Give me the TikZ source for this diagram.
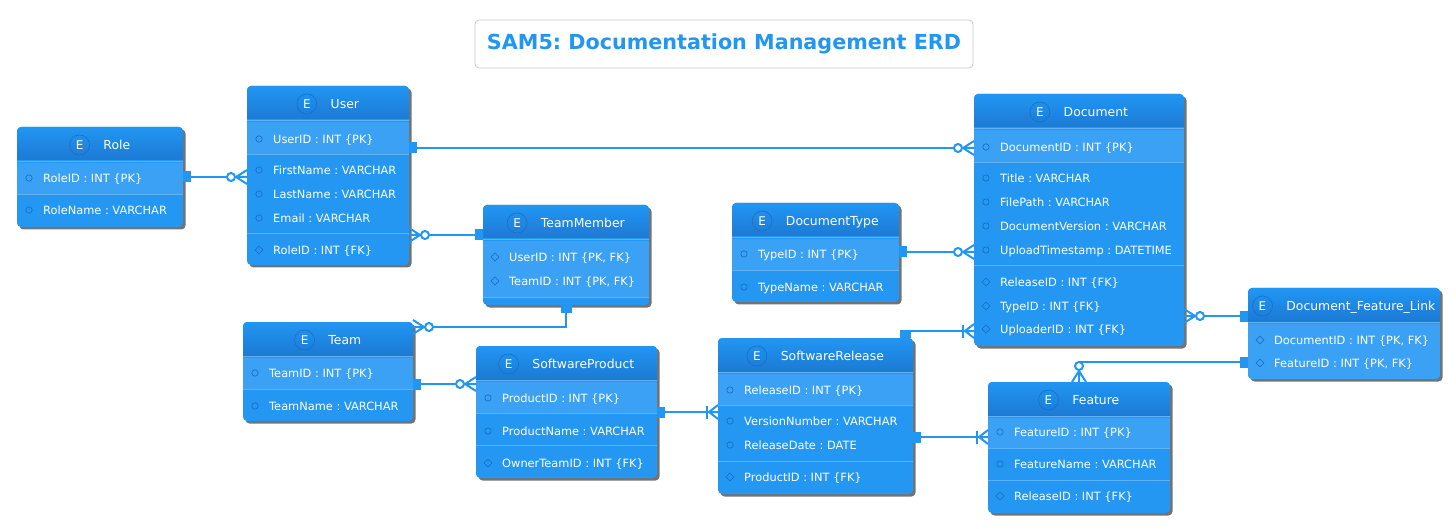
\documentclass[tikz,border=0pt]{standalone}
\usepackage{fontspec}
\setmainfont{DejaVu Sans}
\usetikzlibrary{calc}
\frenchspacing

\definecolor{erdblue}{RGB}{33,150,243}
\definecolor{hdtop}{RGB}{33,150,243}
\definecolor{hdbot}{RGB}{28,122,212}
\definecolor{bodyc}{RGB}{36,151,243}
\definecolor{pkc}{RGB}{58,161,245}
\definecolor{sepc}{RGB}{95,178,246}
\definecolor{iconc}{RGB}{23,105,195}
\definecolor{shadowc}{RGB}{115,115,115}
\definecolor{ecircc}{RGB}{25,110,200}
\definecolor{titleborder}{RGB}{200,200,200}

\tikzset{
  ebox/.style={fill=bodyc, rounded corners=4pt, inner sep=0pt, outer sep=0pt},
  eshadow/.style={fill=shadowc, rounded corners=4pt},
  esep/.style={draw=sepc, line width=0.7pt},
  eicon/.style={draw=iconc, line width=0.6pt},
  eattr/.style={anchor=west, inner sep=0pt, text=white,
    font=\fontsize{11.4pt}{13pt}\selectfont, text height=8.3pt, text depth=0pt},
  ehead/.style={inner sep=0pt, text=white,
    font=\fontsize{12.4pt}{14pt}\selectfont, text height=9pt, text depth=0pt},
  ecirc/.style={circle, draw=ecircc, line width=0.6pt, minimum size=20pt, inner sep=0pt,
    text=white, font=\fontsize{12pt}{14pt}\selectfont, text height=8.8pt, text depth=0pt},
  conn/.style={draw=erdblue, line width=2.5pt},
  crow/.style={draw=erdblue, line width=2pt},
  titlebox/.style={draw=titleborder, fill=white, rounded corners=4pt, line width=0.8pt,
    minimum width=498pt, minimum height=48pt, inner sep=0pt, text=erdblue,
    font=\bfseries\fontsize{20.7pt}{24pt}\selectfont},
}

% entity box: name, left, top, right, bottom, title, bottom of first attribute group
\newcommand\erdentity[7]{%
  \pgfmathsetmacro\erdcx{(#2+#4)/2}%
  \pgfmathsetmacro\erdcy{(#3+#5)/2}%
  \pgfmathsetmacro\erdw{#4-#2}%
  \pgfmathsetmacro\erdh{#5-#3}%
  \fill[eshadow] (#2+2.5,#3+2.5) rectangle (#4+2.5,#5+2.5);
  \node[ebox, minimum width=\erdw pt, minimum height=\erdh pt] (#1) at (\erdcx,\erdcy) {};
  \begin{scope}
    \clip[rounded corners=4pt] (#2,#3) rectangle (#4,#5);
    \shade[top color=hdtop, bottom color=hdbot] (#2,#3) rectangle (#4,#3+33);
    \fill[pkc] (#2,#3+36) rectangle (#4,#7);
  \end{scope}
  \draw[esep] (#2,#3+34.5) -- (#4,#3+34.5);
  \node[ehead] (#1-name) at (\erdcx,#3+18) {\hspace*{33.7pt}#6};
  \node[ecirc] (#1-e) at ([xshift=10pt]#1-name.west) {E};
}

% attribute row: node name, left edge of box, y, kind (o = plain, d = foreign key), text
\newcommand\erdattr[5]{%
  \ifx o#4\relax
    \draw[eicon] (#2+12,#3) circle (3.2pt);
  \else
    \draw[eicon] (#2+8,#3) -- (#2+12,#3-4) -- (#2+16,#3) -- (#2+12,#3+4) -- cycle;
  \fi
  \node[eattr] (#1) at (#2+26,#3) {#5};
}

% separator between attribute groups
\newcommand\erdsep[3]{\draw[esep] (#1,#3) -- (#2,#3);}

% relation ends: point on the box edge, direction pointing into the box
\newcommand\erdone[2]{%
  \begin{scope}[shift={#1}, rotate=#2]
    \fill[erdblue] (-8,-5.5) rectangle (0,5.5);
  \end{scope}}
\newcommand\erdzmany[2]{%
  \begin{scope}[shift={#1}, rotate=#2]
    \draw[crow] (0,-7) -- (-11,0) -- (0,7) (-11,0) -- (0,0);
    \draw[crow, fill=white] (-16,0) circle (4pt);
  \end{scope}}
\newcommand\erdomany[2]{%
  \begin{scope}[shift={#1}, rotate=#2]
    \draw[crow] (0,-7) -- (-9,0) -- (0,7) (-9,0) -- (0,0);
    \draw[crow] (-11,-6.5) -- (-11,6.5);
  \end{scope}}

\begin{document}
\begin{tikzpicture}[x=1pt, y=-1pt]
\useasboundingbox (0,0) rectangle (1456,529);

\node[titlebox] (title) at (724,44) {SAM5: Documentation Management ERD};

% Role
\erdentity{role}{17}{127}{183}{227}{Role}{194}
\erdattr{role-a1}{17}{178}{o}{RoleID : INT \{PK\}}
\erdsep{17}{183}{194}
\erdattr{role-a2}{17}{210}{o}{RoleName : VARCHAR}

% User
\erdentity{user}{247}{86}{409}{265}{User}{154}
\erdattr{user-a1}{247}{139}{o}{UserID : INT \{PK\}}
\erdsep{247}{409}{154}
\erdattr{user-a2}{247}{170}{o}{FirstName : VARCHAR}
\erdattr{user-a3}{247}{194}{o}{LastName : VARCHAR}
\erdattr{user-a4}{247}{218}{o}{Email : VARCHAR}
\erdsep{247}{409}{233}
\erdattr{user-a5}{247}{250}{d}{RoleID : INT \{FK\}}

% TeamMember
\erdentity{teammember}{483}{205}{649}{305}{TeamMember}{297}
\erdattr{tm-a1}{483}{257}{d}{UserID : INT \{PK, FK\}}
\erdattr{tm-a2}{483}{281}{d}{TeamID : INT \{PK, FK\}}
\erdsep{483}{649}{297}

% Team
\erdentity{team}{243}{322}{413}{421}{Team}{389}
\erdattr{team-a1}{243}{373}{o}{TeamID : INT \{PK\}}
\erdsep{243}{413}{389}
\erdattr{team-a2}{243}{406}{o}{TeamName : VARCHAR}

% SoftwareProduct
\erdentity{product}{476}{346}{657}{478}{SoftwareProduct}{413}
\erdattr{product-a1}{476}{398}{o}{ProductID : INT \{PK\}}
\erdsep{476}{657}{413}
\erdattr{product-a2}{476}{431}{o}{ProductName : VARCHAR}
\erdsep{476}{657}{445}
\erdattr{product-a3}{476}{463}{d}{OwnerTeamID : INT \{FK\}}

% SoftwareRelease
\erdentity{release}{718}{338}{913}{494}{SoftwareRelease}{405}
\erdattr{release-a1}{718}{390}{o}{ReleaseID : INT \{PK\}}
\erdsep{718}{913}{405}
\erdattr{release-a2}{718}{421}{o}{VersionNumber : VARCHAR}
\erdattr{release-a3}{718}{445}{o}{ReleaseDate : DATE}
\erdsep{718}{913}{461}
\erdattr{release-a4}{718}{477}{d}{ProductID : INT \{FK\}}

% DocumentType
\erdentity{doctype}{732}{203}{899}{302}{DocumentType}{270}
\erdattr{doctype-a1}{732}{254}{o}{TypeID : INT \{PK\}}
\erdsep{732}{899}{270}
\erdattr{doctype-a2}{732}{287}{o}{TypeName : VARCHAR}

% Document
\erdentity{document}{974}{94}{1184}{346}{Document}{162}
\erdattr{doc-a1}{974}{147}{o}{DocumentID : INT \{PK\}}
\erdsep{974}{1184}{162}
\erdattr{doc-a2}{974}{178}{o}{Title : VARCHAR}
\erdattr{doc-a3}{974}{202}{o}{FilePath : VARCHAR}
\erdattr{doc-a4}{974}{226}{o}{DocumentVersion : VARCHAR}
\erdattr{doc-a5}{974}{250}{o}{UploadTimestamp : DATETIME}
\erdsep{974}{1184}{265}
\erdattr{doc-a6}{974}{282}{d}{ReleaseID : INT \{FK\}}
\erdattr{doc-a7}{974}{306}{d}{TypeID : INT \{FK\}}
\erdattr{doc-a8}{974}{329}{d}{UploaderID : INT \{FK\}}

% Feature
\erdentity{feature}{988}{382}{1170}{513}{Feature}{448}
\erdattr{feature-a1}{988}{432}{o}{FeatureID : INT \{PK\}}
\erdsep{988}{1170}{448}
\erdattr{feature-a2}{988}{464}{o}{FeatureName : VARCHAR}
\erdsep{988}{1170}{480}
\erdattr{feature-a3}{988}{496}{d}{ReleaseID : INT \{FK\}}

% Document_Feature_Link
\erdentity{dfl}{1248}{288}{1440}{379}{Document\_Feature\_Link}{379}
\erdattr{dfl-a1}{1248}{340}{d}{DocumentID : INT \{PK, FK\}}
\erdattr{dfl-a2}{1248}{363}{d}{FeatureID : INT \{PK, FK\}}

% Relations
\draw[conn] (role.east |- 0,177) -- (user.west |- 0,177);
\erdone{(role.east |- 0,177)}{180}
\erdzmany{(user.west |- 0,177)}{0}

\draw[conn] (user.east |- 0,148) -- (document.west |- 0,148);
\erdone{(user.east |- 0,148)}{180}
\erdzmany{(document.west |- 0,148)}{0}

\draw[conn] (user.east |- 0,235) -- (teammember.west |- 0,235);
\erdzmany{(user.east |- 0,235)}{180}
\erdone{(teammember.west |- 0,235)}{0}

\draw[conn] (teammember.south) |- (team.east |- 0,327);
\erdone{(teammember.south)}{90}
\erdzmany{(team.east |- 0,327)}{180}

\draw[conn] (team.east |- 0,384) -- (product.west |- 0,384);
\erdone{(team.east |- 0,384)}{180}
\erdzmany{(product.west |- 0,384)}{0}

\draw[conn] (product.east |- 0,412) -- (release.west |- 0,412);
\erdone{(product.east |- 0,412)}{180}
\erdomany{(release.west |- 0,412)}{0}

\draw[conn] (release.east |- 0,437) -- (feature.west |- 0,437);
\erdone{(release.east |- 0,437)}{180}
\erdomany{(feature.west |- 0,437)}{0}

\draw[conn] (release.north -| 905,0) |- (document.west |- 0,331);
\erdone{(release.north -| 905,0)}{-90}
\erdomany{(document.west |- 0,331)}{0}

\draw[conn] (doctype.east |- 0,252) -- (document.west |- 0,252);
\erdone{(doctype.east |- 0,252)}{180}
\erdzmany{(document.west |- 0,252)}{0}

\draw[conn] (document.east |- 0,316) -- (dfl.west |- 0,316);
\erdzmany{(document.east |- 0,316)}{180}
\erdone{(dfl.west |- 0,316)}{0}

\draw[conn] (dfl.west |- 0,362) -| (feature.north -| 1079,0);
\erdone{(dfl.west |- 0,362)}{0}
\erdzmany{(feature.north -| 1079,0)}{-90}
\end{tikzpicture}
\end{document}
